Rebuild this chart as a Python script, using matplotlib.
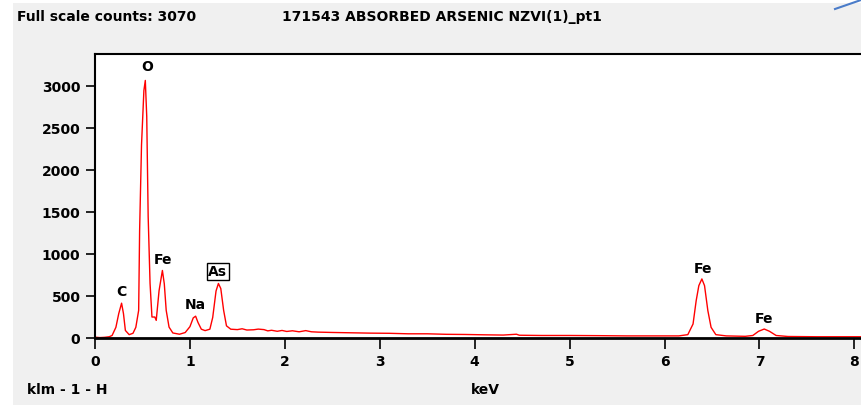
import matplotlib
matplotlib.use("Agg")
import matplotlib.pyplot as plt
from matplotlib.patches import Rectangle
from matplotlib.lines import Line2D

# spectrum (keV, counts)
energy = [0.00, 0.05, 0.10, 0.15, 0.18, 0.22, 0.25, 0.28, 0.30, 0.32,
          0.36, 0.40, 0.43, 0.46, 0.47, 0.49, 0.515, 0.53, 0.545, 0.56,
          0.58, 0.60, 0.63, 0.645, 0.675, 0.71, 0.73, 0.75, 0.78, 0.82,
          0.89, 0.95, 1.00, 1.035, 1.06, 1.085, 1.12, 1.16, 1.21, 1.24,
          1.275, 1.30, 1.325, 1.355, 1.385, 1.43, 1.50, 1.55, 1.60, 1.67,
          1.72, 1.78, 1.82, 1.86, 1.92, 1.97, 2.02, 2.08, 2.15, 2.22,
          2.28, 2.35, 2.50, 2.70, 2.90, 3.10, 3.30, 3.50, 3.70, 3.90,
          4.10, 4.30, 4.44, 4.47, 4.70, 5.00, 5.30, 5.60, 5.90, 6.15,
          6.245, 6.30, 6.333, 6.361, 6.393, 6.421, 6.456, 6.49, 6.54, 6.65,
          6.85, 6.93, 6.99, 7.05, 7.105, 7.175, 7.30, 7.60, 8.10]
counts = [10, 5, 8, 15, 30, 127, 290, 415, 290, 90,
          40, 56, 127, 330, 1280, 2300, 2950, 3070, 2640, 1450,
          650, 250, 250, 210, 565, 805, 645, 330, 130, 60,
          45, 65, 135, 240, 260, 185, 105, 88, 105, 245,
          560, 650, 590, 330, 145, 105, 100, 110, 95, 98,
          106, 100, 85, 92, 80, 90, 78, 86, 74, 88,
          74, 70, 66, 62, 58, 56, 50, 50, 44, 42,
          38, 35, 45, 33, 30, 30, 28, 25, 25, 25,
          40, 167, 445, 624, 704, 624, 326, 127, 40, 25,
          20, 30, 80, 107, 80, 30, 18, 15, 15]

# peak labels
peak_names = ["O", "C", "Fe", "Na", "As", "Fe", "Fe"]
peak_x = [0.547, 0.274, 0.716, 1.053, 1.295, 6.41, 7.05]
peak_y = [3225, 553, 935, 398, 792, 827, 230]

W, H = 861, 405
fig = plt.figure(figsize=(W / 100, H / 100), dpi=100)
fig.patch.set_facecolor("white")
fig.patches.append(Rectangle((13 / W, 0), 1, 1 - 3 / H, transform=fig.transFigure,
                             facecolor="#f0f0f0", edgecolor="none", zorder=-10))
fig.add_artist(Line2D([835 / W, 861 / W], [1 - 9 / H, 1 - 0 / H],
                      color="#4a7cc9", lw=1.5))

ax = fig.add_axes([95 / W, 1 - 338 / H, (W - 95) / W + 0.01, (338 - 54) / H])
ax.set_facecolor("white")
ax.plot(energy, counts, color="red", lw=1.0)

ax.set_xlim(0, 8.16)
ax.set_ylim(0, 3385)
ax.set_xticks(range(0, 9))
ax.set_yticks([0, 500, 1000, 1500, 2000, 2500, 3000])
for s in ax.spines.values():
    s.set_linewidth(1.5)
ax.spines["bottom"].set_linewidth(2)
ax.spines["right"].set_visible(False)
ax.tick_params(axis="x", length=8, width=1.2, pad=4.5, labelsize=10)
ax.tick_params(axis="y", length=6.5, width=1.2, pad=4, labelsize=10)
for lab in ax.get_xticklabels() + ax.get_yticklabels():
    lab.set_fontweight("bold")

for name, x, y in zip(peak_names, peak_x, peak_y):
    if name == "As":
        ax.text(x, y, name, ha="center", va="center", fontsize=10, fontweight="bold",
                bbox=dict(boxstyle="square,pad=0.1", facecolor="white",
                          edgecolor="black", lw=1))
    else:
        ax.text(x, y, name, ha="center", va="center", fontsize=10, fontweight="bold")

fig.text(17 / W, 1 - 17 / H, "Full scale counts: 3070", fontsize=10,
         fontweight="bold", va="center", ha="left")
fig.text(282 / W, 1 - 17 / H, "171543 ABSORBED ARSENIC NZVI(1)_pt1", fontsize=10,
         fontweight="bold", va="center", ha="left")
fig.text(27 / W, 1 - 390 / H, "klm - 1 - H", fontsize=10, fontweight="bold",
         va="center", ha="left")
fig.text(471 / W, 1 - 390 / H, "keV", fontsize=10, fontweight="bold",
         va="center", ha="left")

fig.savefig("out.png", dpi=100)
